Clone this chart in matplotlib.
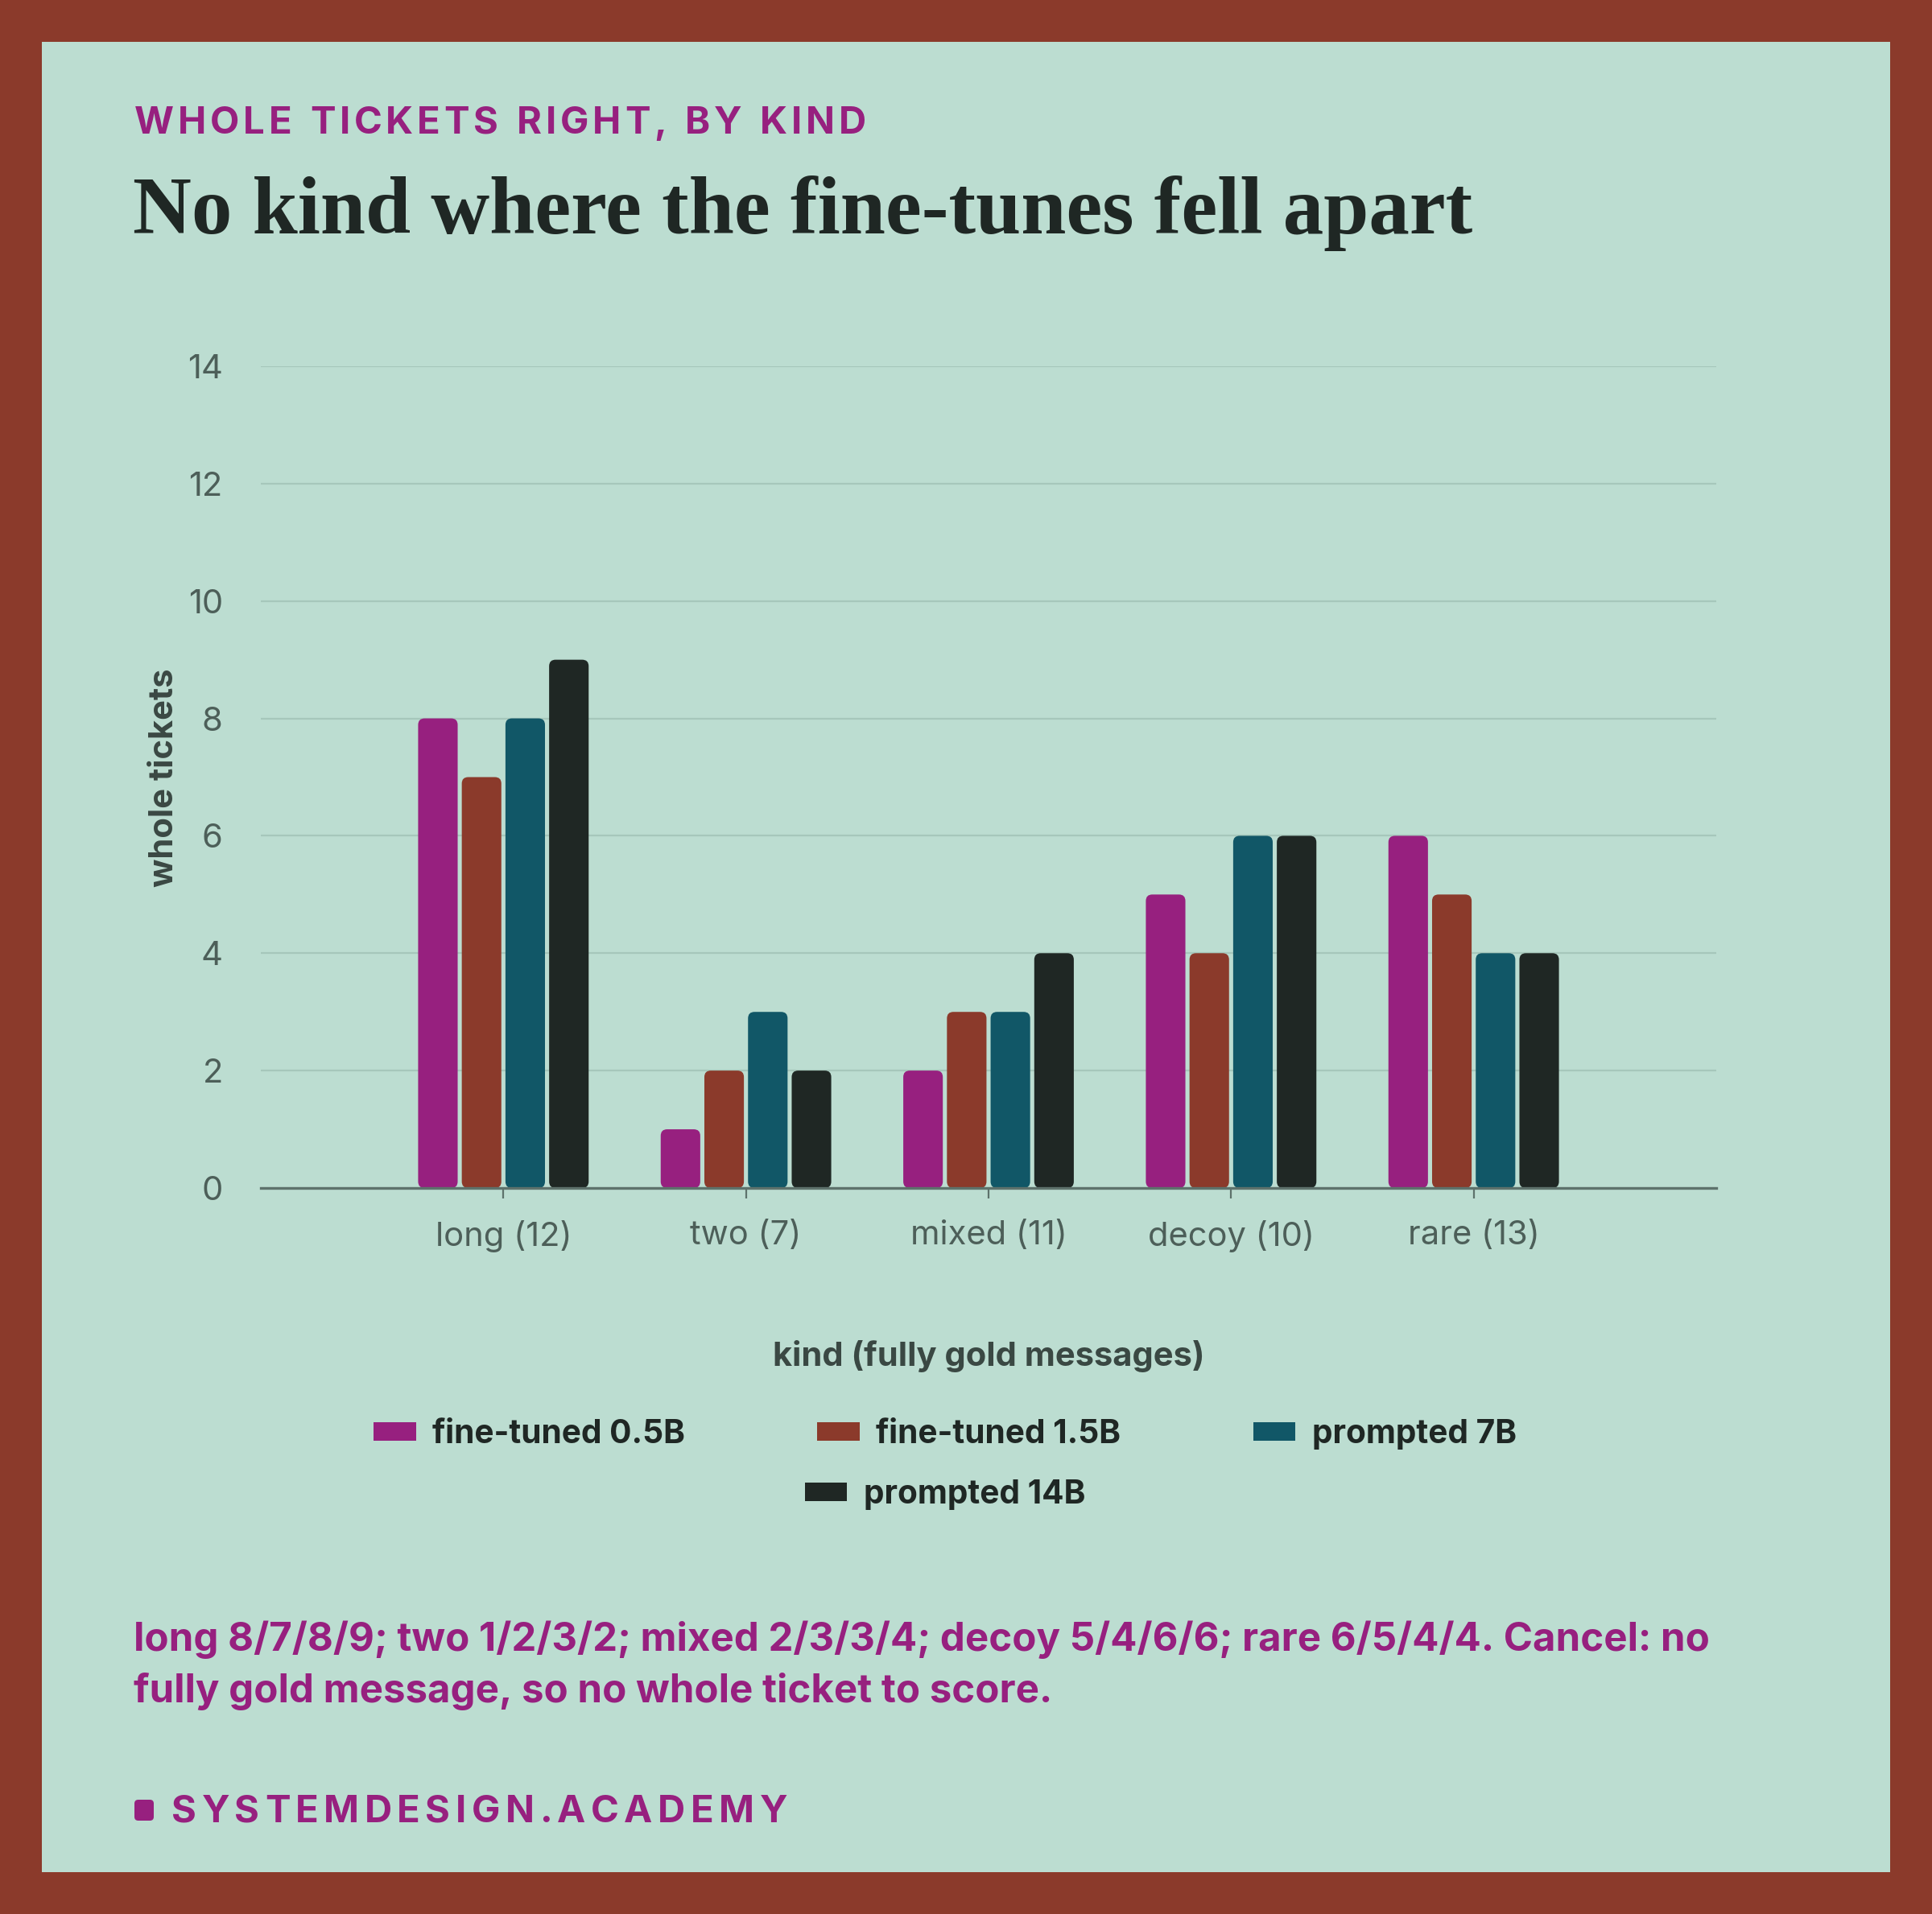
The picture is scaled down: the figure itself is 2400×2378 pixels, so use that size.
import matplotlib
matplotlib.use("Agg")
import matplotlib.pyplot as plt
from matplotlib.patches import FancyBboxPatch, Patch, Rectangle
from matplotlib.font_manager import FontProperties

kinds = ["long (12)", "two (7)", "mixed (11)", "decoy (10)", "rare (13)"]
models = ["fine-tuned 0.5B", "fine-tuned 1.5B", "prompted 7B", "prompted 14B"]
ft_05b = [8, 1, 2, 5, 6]
ft_15b = [7, 2, 3, 4, 5]
pr_7b = [8, 3, 3, 6, 4]
pr_14b = [9, 2, 4, 6, 4]
series = [ft_05b, ft_15b, pr_7b, pr_14b]
colors = ["#97207F", "#8B3A2B", "#115767", "#1F2724"]

BORDER = "#8B3A2B"
PANEL = "#BCDDD1"
GRID = "#A6C7BB"
AXIS = "#5E726C"
TICK_TXT = "#4D5F59"
LABEL_TXT = "#3A4843"
INK = "#1F2724"
PURPLE = "#97207F"
SANS = ["Inter", "DejaVu Sans"]

W, H = 2400, 2378
DPI = 200
fig = plt.figure(figsize=(W / DPI, H / DPI), dpi=DPI, facecolor=BORDER)
plt.rcParams["font.family"] = SANS


def fx(px):
    return px / W


def fy(py):
    return 1 - py / H


# inner panel, kept below the axes
fig.patches.append(Rectangle((fx(52), fy(2326)), fx(2348 - 52), (2326 - 52) / H,
                             transform=fig.transFigure, facecolor=PANEL,
                             edgecolor="none", zorder=-5))

renderer = fig.canvas.get_renderer()


def spaced_text(x_px, y_px, s, gap_px, size, color, weight="bold"):
    fp = FontProperties(family=SANS, size=size, weight=weight)
    x = x_px
    for ch in s:
        if ch != " ":
            fig.text(fx(x), fy(y_px), ch, fontproperties=fp, color=color,
                     ha="left", va="baseline")
        w, _, _ = renderer.get_text_width_height_descent(ch if ch != " " else "n", fp, ismath=False)
        if ch == " ":
            w *= 0.45
        x += w + gap_px


spaced_text(167, 166, "WHOLE TICKETS RIGHT, BY KIND", 4.8, 17, PURPLE)
fig.text(fx(165), fy(290), "No kind where the fine-tunes fell apart",
         family=["Liberation Serif", "DejaVu Serif"], weight="bold",
         fontsize=36.3, color=INK, ha="left", va="baseline")

ax = fig.add_axes([fx(324), fy(1476), fx(2132 - 324), (1476 - 455) / H])
ax.set_facecolor("none")
xs = list(range(len(kinds)))
step, width = 0.18, 0.163
px_per_x = (2132 - 324) / 6
px_per_y = (1476 - 455) / 14
rad = 8 / px_per_x
aspect = (8 / px_per_y) / rad
for i, (vals, col, name) in enumerate(zip(series, colors, models)):
    offs = [x + (i - 1.5) * step for x in xs]
    bars = ax.bar(offs, vals, width=width, color=col, label=name)
    for b in bars:
        b.set_visible(False)
        ax.add_patch(FancyBboxPatch((b.get_x(), 0), b.get_width(), b.get_height(),
                                    boxstyle=f"round,pad=0,rounding_size={rad}",
                                    mutation_aspect=aspect, facecolor=col,
                                    edgecolor="none", zorder=3))

ax.set_xlim(-1, 5)
ax.set_ylim(0, 14)
ax.set_yticks(range(0, 15, 2))
ax.set_xticks(xs, kinds)
ax.grid(axis="y", color=GRID, linewidth=0.8, zorder=0)
ax.set_axisbelow(True)
for side in ["top", "right", "left"]:
    ax.spines[side].set_visible(False)
ax.spines["bottom"].set_color(AXIS)
ax.spines["bottom"].set_linewidth(1.2)
ax.spines["bottom"].set_zorder(4)
ax.tick_params(axis="y", length=0, pad=17, labelsize=15, labelcolor=TICK_TXT)
ax.tick_params(axis="x", length=4.5, width=0.8, color=AXIS, pad=10,
               labelsize=15, labelcolor=TICK_TXT)

fig.text(fx(204), fy(966), "whole tickets", rotation=90, fontsize=15,
         weight="bold", color=LABEL_TXT, ha="center", va="center")
fig.text(fx(1228), fy(1685), "kind (fully gold messages)", fontsize=15,
         weight="bold", color=LABEL_TXT, ha="center", va="center")

handles = [Patch(facecolor=c, edgecolor="none", label=m) for c, m in zip(colors, models)]
leg_kw = dict(frameon=False, prop=FontProperties(family=SANS, size=14.6, weight="bold"),
              labelcolor=INK, handlelength=1.3, handleheight=0.5,
              handletextpad=0.5, columnspacing=4.05, borderpad=0, borderaxespad=0)
leg1 = fig.legend(handles[:3], models[:3], ncol=3, loc="center",
                  bbox_to_anchor=(fx(1174), fy(1782)), **leg_kw)
leg2 = fig.legend(handles[3:], models[3:], ncol=1, loc="center",
                  bbox_to_anchor=(fx(1174), fy(1857)), **leg_kw)

note = ("long 8/7/8/9; two 1/2/3/2; mixed 2/3/3/4; decoy 5/4/6/6; rare 6/5/4/4. Cancel: no\n"
        "fully gold message, so no whole ticket to score.")
fig.text(fx(166), fy(2115), note, fontsize=17.7, weight="bold", color=PURPLE,
         ha="left", va="baseline", linespacing=1.45)

fig.patches.append(FancyBboxPatch((fx(167), fy(2262)), fx(24), 26 / H,
                                  boxstyle="round,pad=0,rounding_size=0.002",
                                  transform=fig.transFigure, facecolor=PURPLE,
                                  edgecolor="none"))
spaced_text(213, 2264, "SYSTEMDESIGN.ACADEMY", 6.5, 17, PURPLE)

fig.savefig("out.png", dpi=DPI, facecolor=BORDER)
